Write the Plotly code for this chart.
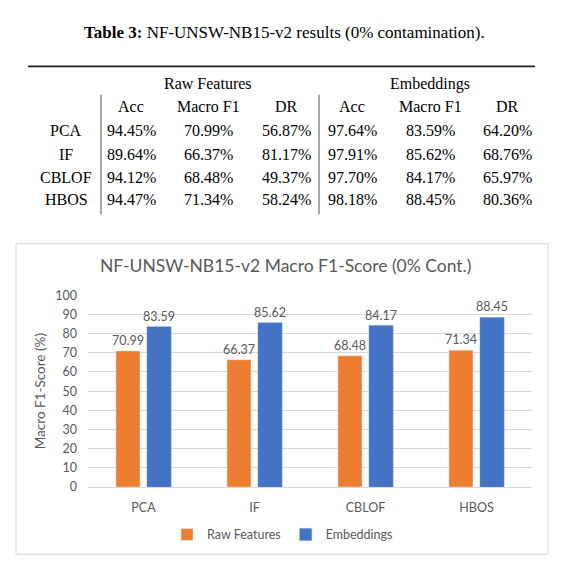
import plotly.graph_objects as go

# ---------------- data ----------------
methods = ["PCA", "IF", "CBLOF", "HBOS"]
raw_acc = [94.45, 89.64, 94.12, 94.47]
raw_f1 = [70.99, 66.37, 68.48, 71.34]
raw_dr = [56.87, 81.17, 49.37, 58.24]
emb_acc = [97.64, 97.91, 97.70, 98.18]
emb_f1 = [83.59, 85.62, 84.17, 88.45]
emb_dr = [64.20, 68.76, 65.97, 80.36]
col_headers = ["Acc", "Macro F1", "DR", "Acc", "Macro F1", "DR"]
group_headers = ["Raw Features", "Embeddings"]
table_title_bold = "Table 3:"
table_title_rest = " NF-UNSW-NB15-v2 results (0% contamination)."
chart_title = "NF-UNSW-NB15-v2 Macro F1-Score (0% Cont.)"
y_ticks = [0, 10, 20, 30, 40, 50, 60, 70, 80, 90, 100]

W, H = 565, 570
def px(x):
    return x / W
def py(y):
    return 1 - y / H

GRAY = "#595959"
ORANGE = "#ED7D31"
BLUE = "#4472C4"
CF = "Lato, Liberation Sans, sans-serif"
TF = "Liberation Serif, Times New Roman, serif"
TS = 16

fig = go.Figure()
fig.add_trace(go.Bar(
    x=methods, y=raw_f1, name="Raw Features", marker_color=ORANGE,
    text=[f"{v:.2f}" for v in raw_f1], textposition="outside", constraintext="none",
    textfont=dict(color=GRAY, size=12.5, family=CF), cliponaxis=False,
))
fig.add_trace(go.Bar(
    x=methods, y=emb_f1, name="Embeddings", marker_color=BLUE,
    marker_line=dict(color="#6d8fd0", width=0.5),
    text=[f"{v:.2f}" for v in emb_f1], textposition="outside", constraintext="none",
    textfont=dict(color=GRAY, size=12.5, family=CF), cliponaxis=False,
))

fig.update_layout(
    width=W, height=H, margin=dict(l=0, r=0, t=0, b=0),
    paper_bgcolor="white", plot_bgcolor="white",
    barmode="group", bargap=0.44, bargroupgap=0.226,
    font=dict(family=CF, color=GRAY, size=12),
    showlegend=True,
    legend=dict(orientation="h", x=0.5, xanchor="center", y=py(541), yanchor="middle",
                font=dict(size=12.5, color=GRAY, family=CF), itemwidth=30,
                traceorder="normal"),
    xaxis=dict(domain=[px(88), px(532)], showline=True, linecolor="#D9D9D9", linewidth=1,
               ticks="", tickfont=dict(size=12.5, color=GRAY, family=CF),
               ticklabelstandoff=9),
    yaxis=dict(domain=[py(492), py(295)], range=[0, 100], tickvals=y_ticks,
               showgrid=True, gridcolor="#D9D9D9", gridwidth=1, zeroline=False,
               ticks="", ticklabelstandoff=10,
               tickfont=dict(size=12.5, color=GRAY, family=CF),
               title=dict(text="Macro F1-Score (%)", standoff=6,
                          font=dict(size=13.5, color=GRAY, family=CF))),
)

shapes = []
# chart border
shapes.append(dict(type="rect", xref="paper", yref="paper",
                   x0=px(16), x1=px(548), y0=py(561), y1=py(242),
                   line=dict(color="#D9D9D9", width=1), fillcolor="rgba(0,0,0,0)"))
# table rule
shapes.append(dict(type="line", xref="paper", yref="paper",
                   x0=px(28), x1=px(535), y0=py(60), y1=py(60),
                   line=dict(color="#222222", width=1.6)))
# vertical separators
for vx in [101, 319]:
    shapes.append(dict(type="line", xref="paper", yref="paper",
                       x0=px(vx), x1=px(vx), y0=py(89), y1=py(212),
                       line=dict(color="#555555", width=1)))
fig.update_layout(shapes=shapes)

ann = []
# chart title
ann.append(dict(text=chart_title, x=px(285), y=py(264), xref="paper", yref="paper",
                showarrow=False, xanchor="center", yanchor="middle",
                font=dict(size=17.5, color=GRAY, family=CF)))
# table title
ann.append(dict(text=f"<b>{table_title_bold}</b>{table_title_rest}", x=px(284), y=py(25),
                xref="paper", yref="paper", showarrow=False, xanchor="center", yanchor="middle",
                font=dict(size=17, color="black", family=TF)))
# group headers
for gx, gh in zip([208, 430], group_headers):
    ann.append(dict(text=gh, x=px(gx), y=py(78), xref="paper", yref="paper", showarrow=False,
                    xanchor="center", yanchor="middle", font=dict(size=TS, color="black", family=TF)))
col_x = [131, 208, 286, 352, 430, 507]
for cx, ch in zip(col_x, col_headers):
    ann.append(dict(text=ch, x=px(cx), y=py(101), xref="paper", yref="paper", showarrow=False,
                    xanchor="center", yanchor="middle", font=dict(size=TS, color="black", family=TF)))
row_y = [126, 150, 174, 197]
cols = [raw_acc, raw_f1, raw_dr, emb_acc, emb_f1, emb_dr]
for i, m in enumerate(methods):
    ann.append(dict(text=m, x=px(66), y=py(row_y[i]), xref="paper", yref="paper", showarrow=False,
                    xanchor="center", yanchor="middle", font=dict(size=TS, color="black", family=TF)))
    for cx, col in zip(col_x, cols):
        ann.append(dict(text=f"{col[i]:.2f}%", x=px(cx), y=py(row_y[i]), xref="paper", yref="paper",
                        showarrow=False, xanchor="center", yanchor="middle",
                        font=dict(size=TS, color="black", family=TF)))
fig.update_layout(annotations=ann)

fig.write_html("out.html")
